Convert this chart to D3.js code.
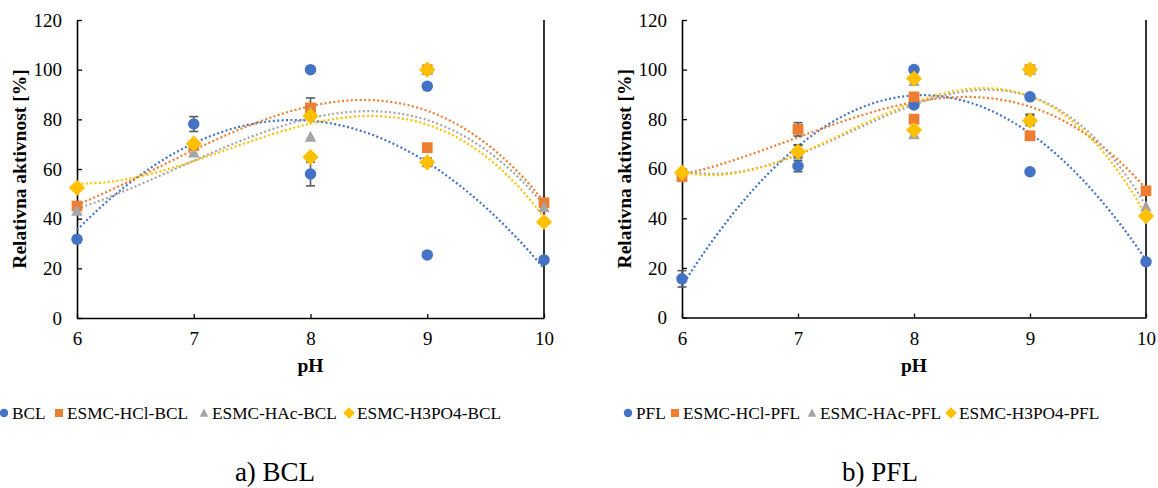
<!DOCTYPE html>
<html>
<head>
<meta charset="utf-8">
<script src="https://cdn.jsdelivr.net/npm/d3@7"></script>
<style>
  html, body { margin: 0; padding: 0; background: #fff; }
  svg { display: block; }
  text { font-family: "Liberation Serif", "Times New Roman", serif; fill: #000; }
</style>
</head>
<body>
<svg id="fig" width="1158" height="488"></svg>
<script>
// pH at which each measurement was taken (pH 8 and 9 measured twice)
const phPoints = [6, 7, 8, 8, 9, 9, 10];
const phTicks = [6, 7, 8, 9, 10];
const activityTicks = [0, 20, 40, 60, 80, 100, 120];

// a) BCL — relative activity [%]
const seriesNamesBCL = ["BCL", "ESMC-HCl-BCL", "ESMC-HAc-BCL", "ESMC-H3PO4-BCL"];
const activityBCL     = [31.7, 78.1, 100, 58.0, 93.3, 25.4, 23.4];
const activityHClBCL  = [45.1, 69.4, 84.6, 83.4, 100, 68.6, 46.4];
const activityHAcBCL  = [43.2, 66.6, 73.0, 83.0, 100, 62.7, 44.6];
const activityH3PO4BCL = [52.4, 70.2, 81.3, 64.8, 100, 62.7, 38.7];
const errorBCL      = [0, 3.0, 0, 4.8, 0, 0, 0];
const errorHClBCL   = [0, 0, 4.0, 0, 0, 0, 0];
const errorHAcBCL   = [0, 0, 0, 0, 0, 1.6, 0];
const errorH3PO4BCL = [0, 0, 0, 0, 0, 1.6, 0];

// b) PFL — relative activity [%]
const seriesNamesPFL = ["PFL", "ESMC-HCl-PFL", "ESMC-HAc-PFL", "ESMC-H3PO4-PFL"];
const activityPFL      = [15.6, 61.1, 100, 85.7, 89.0, 58.8, 22.5];
const activityHClPFL   = [56.8, 75.9, 89.0, 80.0, 100, 73.3, 51.1];
const activityHAcPFL   = [59.0, 67.2, 95.4, 73.9, 100, 80.0, 44.7];
const activityH3PO4PFL = [58.4, 66.9, 96.4, 75.6, 100, 79.4, 40.9];
const errorPFL      = [3.3, 2.3, 0, 0, 0, 0, 0];
const errorHClPFL   = [0, 2.7, 0, 0, 0, 0, 0];
const errorHAcPFL   = [0, 2.5, 0, 0, 0, 2.0, 0];
const errorH3PO4PFL = [0, 2.5, 0, 0, 0, 2.0, 0];

// polynomial order of each series' trendline
const trendOrder = [2, 3, 3, 3];

const colors = ["#4472C4", "#ED7D31", "#A5A5A5", "#FFC000"];

// rotated square marker (Excel-style diamond)
const diamondSquare = {
  draw(ctx, size) {
    const r = Math.sqrt(size / 2);
    ctx.moveTo(0, -r); ctx.lineTo(r, 0); ctx.lineTo(0, r); ctx.lineTo(-r, 0); ctx.closePath();
  }
};
// upward triangle sized by its width
const triangleUp = {
  draw(ctx, size) {
    const w = Math.sqrt(size);
    const h = w * 0.95;
    ctx.moveTo(0, -h * 0.55); ctx.lineTo(w / 2, h * 0.45); ctx.lineTo(-w / 2, h * 0.45); ctx.closePath();
  }
};
const markerTypes = [d3.symbolCircle, d3.symbolSquare, triangleUp, diamondSquare];
const markerSizes = [104, 115, 132, 132];
const legendSizes = [56, 64, 76, 68];

// least-squares polynomial fit, x centred at pH 8
function polyFit(xs, ys, order) {
  const n = order + 1;
  const A = Array.from({length: n}, () => new Array(n + 1).fill(0));
  xs.forEach((x, k) => {
    const t = x - 8;
    for (let i = 0; i < n; i++) {
      for (let j = 0; j < n; j++) A[i][j] += Math.pow(t, i + j);
      A[i][n] += Math.pow(t, i) * ys[k];
    }
  });
  for (let c = 0; c < n; c++) {
    let p = c;
    for (let r = c + 1; r < n; r++) if (Math.abs(A[r][c]) > Math.abs(A[p][c])) p = r;
    [A[c], A[p]] = [A[p], A[c]];
    for (let r = 0; r < n; r++) {
      if (r === c) continue;
      const f = A[r][c] / A[c][c];
      for (let k = c; k <= n; k++) A[r][k] -= f * A[c][k];
    }
  }
  const coef = A.map((row, i) => row[n] / row[i]);
  return x => coef.reduce((s, a, i) => s + a * Math.pow(x - 8, i), 0);
}

const svg = d3.select("#fig");

function drawChart(cfg) {
  const g = svg.append("g");
  const x = d3.scaleLinear().domain([6, 10]).range([cfg.left, cfg.right]);
  const y = d3.scaleLinear().domain([0, 120]).range([cfg.bottom, cfg.top]);

  // axes with inward ticks
  const yAxis = d3.axisLeft(y).tickValues(activityTicks).tickSizeInner(-5).tickSizeOuter(0).tickPadding(15);
  const xAxis = d3.axisBottom(x).tickValues(phTicks).tickFormat(d3.format("d"))
    .tickSizeInner(-4).tickSizeOuter(0).tickPadding(14);

  const ya = g.append("g").attr("transform", `translate(${cfg.left},0)`).call(yAxis);
  const xa = g.append("g").attr("transform", `translate(0,${cfg.bottom})`).call(xAxis);
  [ya, xa].forEach(a => {
    a.select(".domain").attr("stroke", "#000").attr("stroke-width", 1.6);
    a.selectAll(".tick line").attr("stroke", "#000").attr("stroke-width", 1.3);
    a.selectAll(".tick text").attr("font-family", "Liberation Serif").attr("font-size", 19).attr("fill", "#000");
  });
  g.append("line")
    .attr("x1", cfg.right).attr("x2", cfg.right)
    .attr("y1", cfg.top).attr("y2", cfg.bottom)
    .attr("stroke", "#000").attr("stroke-width", 1.6);

  // axis titles
  g.append("text")
    .attr("transform", `translate(${cfg.left - 51},${(cfg.top + cfg.bottom) / 2}) rotate(-90)`)
    .attr("text-anchor", "middle")
    .attr("font-weight", "bold").attr("font-size", 19.5)
    .text("Relativna aktivnost [%]");
  g.append("text")
    .attr("x", x(8)).attr("y", cfg.bottom + 54)
    .attr("text-anchor", "middle")
    .attr("font-weight", "bold").attr("font-size", 19.5)
    .text("pH");

  // dotted polynomial trendlines
  const samples = d3.range(0, 201).map(i => 6 + i * 0.02);
  cfg.values.forEach((vals, s) => {
    const f = polyFit(phPoints, vals, trendOrder[s]);
    g.append("path")
      .attr("fill", "none")
      .attr("stroke", colors[s])
      .attr("stroke-width", 2.2)
      .attr("stroke-dasharray", "2 2.4")
      .attr("d", d3.line().x(d => x(d)).y(d => y(f(d)))(samples));
  });

  // error bars and markers
  cfg.values.forEach((vals, s) => {
    const pts = vals.map((v, i) => ({ph: phPoints[i], v, e: cfg.errors[s][i]}));
    const eb = g.append("g").attr("stroke", "#595959").attr("stroke-width", 1.6);
    pts.filter(p => p.e > 0).forEach(p => {
      eb.append("line").attr("x1", x(p.ph)).attr("x2", x(p.ph)).attr("y1", y(p.v - p.e)).attr("y2", y(p.v + p.e));
      [p.v - p.e, p.v + p.e].forEach(b => {
        eb.append("line").attr("x1", x(p.ph) - 4.5).attr("x2", x(p.ph) + 4.5).attr("y1", y(b)).attr("y2", y(b));
      });
    });
    g.append("g").selectAll("path").data(pts).join("path")
      .attr("transform", p => `translate(${x(p.ph)},${y(p.v)})`)
      .attr("d", d3.symbol().type(markerTypes[s]).size(markerSizes[s]))
      .attr("fill", colors[s]);
  });

  // legend
  const lg = g.append("g");
  cfg.names.forEach((name, s) => {
    lg.append("path")
      .attr("transform", `translate(${cfg.legendX[s]},${cfg.legendY})`)
      .attr("d", d3.symbol().type(markerTypes[s]).size(legendSizes[s]))
      .attr("fill", colors[s]);
    lg.append("text")
      .attr("x", cfg.legendX[s] + 8).attr("y", cfg.legendY + 6)
      .attr("font-size", 17.3)
      .text(name);
  });

  // panel caption
  svg.append("text")
    .attr("x", cfg.captionX).attr("y", 481)
    .attr("text-anchor", "middle")
    .attr("font-size", 27)
    .text(cfg.caption);
}

drawChart({
  left: 77, right: 544, top: 20, bottom: 318,
  names: seriesNamesBCL,
  values: [activityBCL, activityHClBCL, activityHAcBCL, activityH3PO4BCL],
  errors: [errorBCL, errorHClBCL, errorHAcBCL, errorH3PO4BCL],
  legendX: [4, 59, 204, 349], legendY: 413,
  caption: "a) BCL", captionX: 275
});

drawChart({
  left: 682, right: 1146, top: 20, bottom: 317.5,
  names: seriesNamesPFL,
  values: [activityPFL, activityHClPFL, activityHAcPFL, activityH3PO4PFL],
  errors: [errorPFL, errorHClPFL, errorHAcPFL, errorH3PO4PFL],
  legendX: [628, 675, 812, 951], legendY: 413,
  caption: "b) PFL", captionX: 880
});
</script>
</body>
</html>
